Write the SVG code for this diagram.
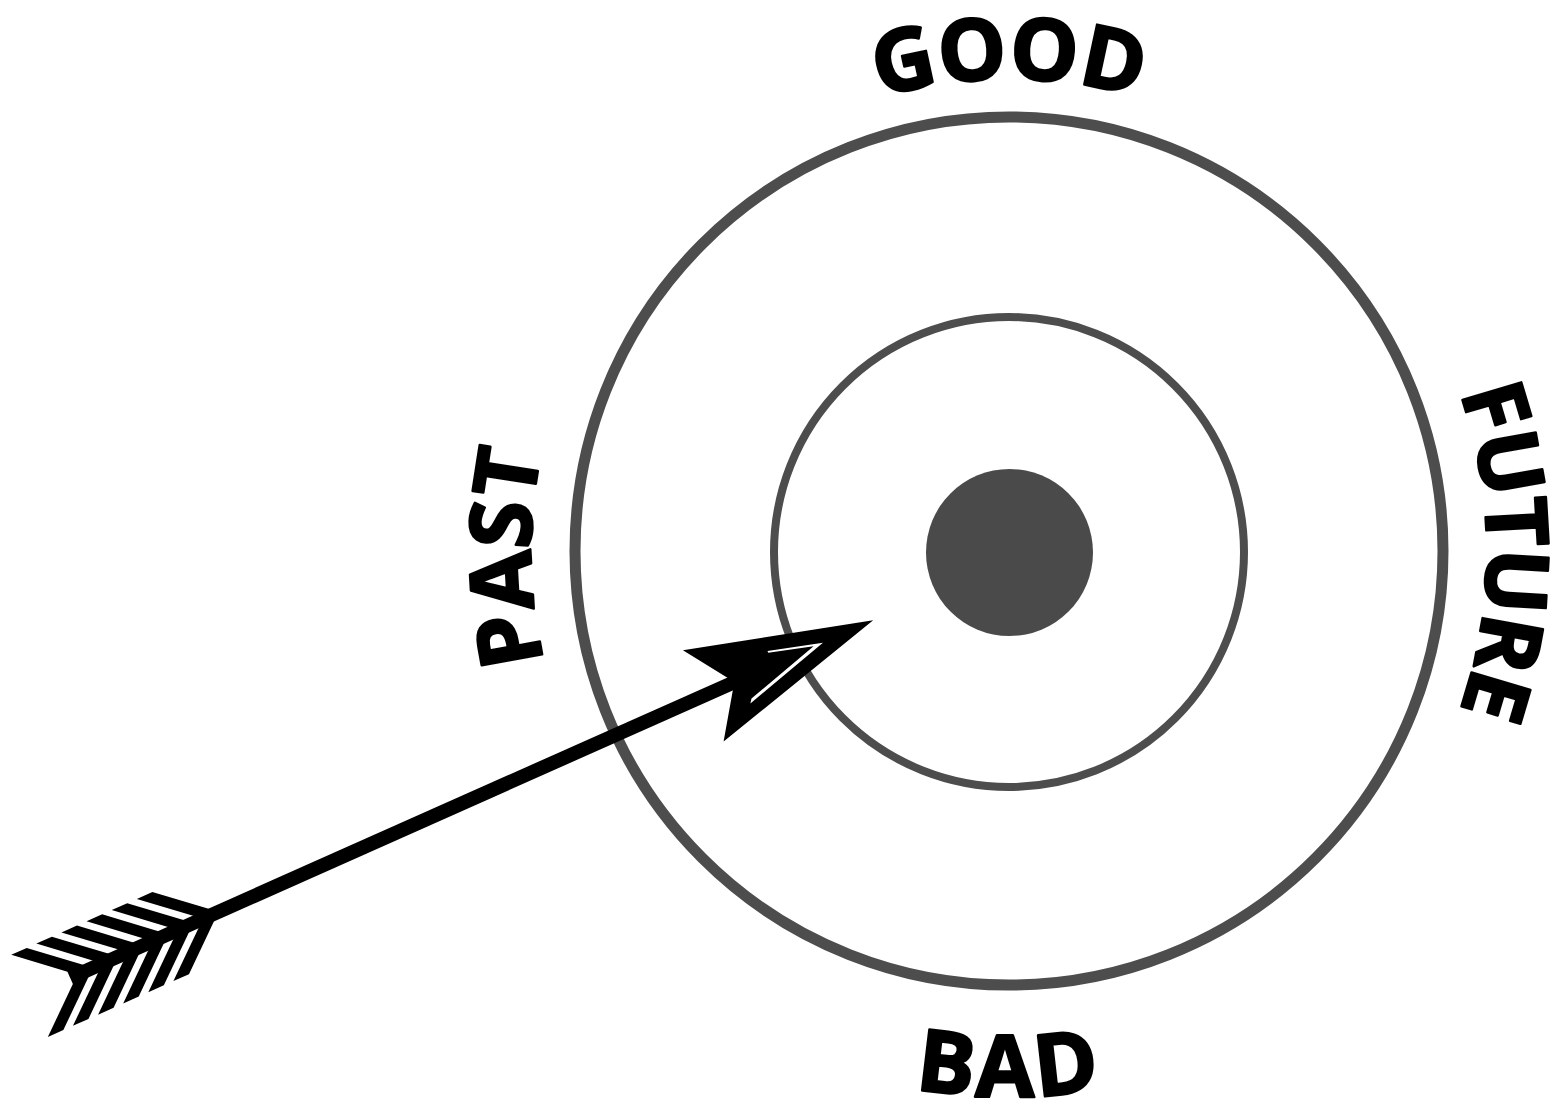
<svg xmlns="http://www.w3.org/2000/svg" width="1561" height="1112" viewBox="0 0 1561 1112">
  <defs>
    <style>
      .ring { fill: none; stroke: #4d4d4d; }
      .label { font-family: "Open Sans", "Liberation Sans", sans-serif; font-weight: 700; font-size: 86px; fill: #000; stroke: #000; stroke-width: 2.5px; stroke-linejoin: round; }
      .ink { fill: #000; }
    </style>
    <path id="arcGood" d="M 537,551 A 472 472 0 0 1 1481,551"/>
    <path id="arcFuture" d="M 1009,73 A 478 478 0 0 1 1009,1029"/>
    <path id="arcPast" d="M 1009,1029 A 478 478 0 0 1 1009,73"/>
    <path id="arcBad" d="M 463,551 A 546 546 0 0 0 1555,551"/>
  </defs>
  <rect width="1561" height="1112" fill="#fff"/>

  <g id="outer-ring"><circle class="ring" cx="1009" cy="551" r="434" stroke-width="11"/></g>
  <g id="inner-ring"><circle class="ring" cx="1009" cy="552" r="235" stroke-width="8"/></g>
  <g id="bullseye"><circle cx="1009.5" cy="552.5" r="83.5" fill="#4a4a4a"/></g>

  <g id="label-good"><text class="label" text-anchor="middle"><textPath href="#arcGood" startOffset="50%">GOOD</textPath></text></g>
  <g id="label-future"><text class="label" text-anchor="middle" letter-spacing="-1.5"><textPath href="#arcFuture" startOffset="50%">FUTURE</textPath></text></g>
  <g id="label-past"><text class="label" text-anchor="middle"><textPath href="#arcPast" startOffset="744">PAST</textPath></text></g>
  <g id="label-bad"><text class="label" text-anchor="middle" letter-spacing="3"><textPath href="#arcBad" startOffset="50%">BAD</textPath></text></g>

  <g id="connectors">
    <g id="arrow" transform="translate(72,977) rotate(-24)">
      <rect class="ink" x="-2" y="-7" width="740" height="14"/>
      <g id="fletching" class="ink">
        <polygon points="0,-5 17,-5 -29.5,-45 -46.5,-45"/>
        <polygon points="0,5 17,5 -29.5,45 -46.5,45"/>
        <polygon points="27.5,-5 44.5,-5 -2,-45 -19,-45"/>
        <polygon points="27.5,5 44.5,5 -2,45 -19,45"/>
        <polygon points="55,-5 72,-5 25.5,-45 8.5,-45"/>
        <polygon points="55,5 72,5 25.5,45 8.5,45"/>
        <polygon points="82.5,-5 99.5,-5 53,-45 36,-45"/>
        <polygon points="82.5,5 99.5,5 53,45 36,45"/>
        <polygon points="110,-5 127,-5 80.5,-45 63.5,-45"/>
        <polygon points="110,5 127,5 80.5,45 63.5,45"/>
        <polygon points="137.5,-5 154.5,-5 108,-45 91,-45"/>
        <polygon points="137.5,5 154.5,5 108,45 91,45"/>
      </g>
      <polygon class="ink" points="877,0 691,-50 725,0 691,50"/>
      <polygon fill="#fff" points="768,-15 822,0 731,26 734,22 812,-0.5 768,-13"/>
    </g>
  </g>
</svg>
